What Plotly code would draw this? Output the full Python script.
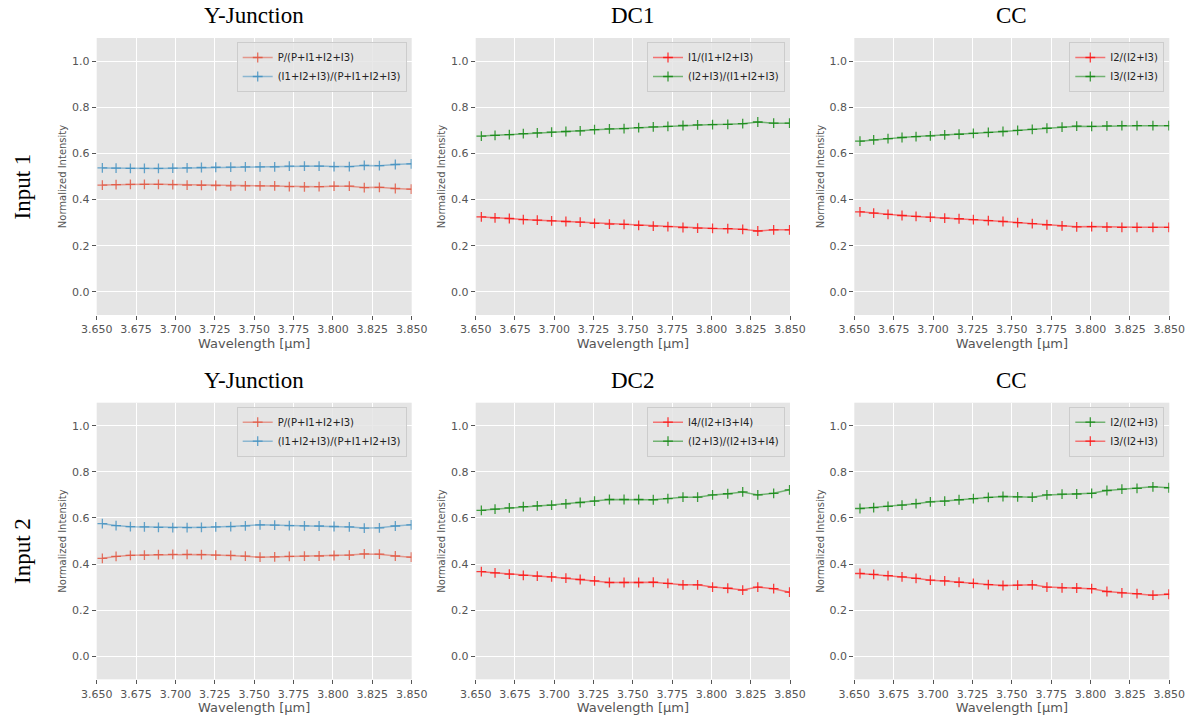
import plotly.graph_objects as go

# ---------------- data ----------------
wavelength = [3.6536, 3.6623, 3.6714, 3.6803, 3.6892, 3.6983, 3.7074, 3.7165,
              3.7256, 3.7351, 3.7444, 3.7537, 3.7630, 3.7723, 3.7819, 3.7912,
              3.8007, 3.8104, 3.8199, 3.8295, 3.8396, 3.8497]

# Input 1, Y-Junction
yj1_p = [0.463, 0.465, 0.466, 0.466, 0.466, 0.465, 0.463, 0.462, 0.461, 0.459, 0.459,
         0.459, 0.459, 0.456, 0.455, 0.456, 0.458, 0.458, 0.452, 0.453, 0.448, 0.445]
yj1_i = [0.537, 0.536, 0.535, 0.535, 0.535, 0.536, 0.537, 0.539, 0.540, 0.541, 0.542,
         0.542, 0.542, 0.545, 0.545, 0.545, 0.543, 0.543, 0.548, 0.547, 0.552, 0.555]
# Input 1, DC1
dc1_i1 = [0.325, 0.321, 0.318, 0.313, 0.311, 0.308, 0.305, 0.302, 0.297, 0.294, 0.293,
          0.288, 0.285, 0.283, 0.279, 0.276, 0.275, 0.274, 0.271, 0.264, 0.269, 0.269]
dc1_i23 = [0.675, 0.678, 0.681, 0.686, 0.689, 0.692, 0.695, 0.698, 0.703, 0.706, 0.707,
           0.712, 0.715, 0.717, 0.721, 0.724, 0.725, 0.726, 0.729, 0.736, 0.731, 0.731]
# Input 1, CC
cc1_i2 = [0.347, 0.341, 0.336, 0.331, 0.327, 0.324, 0.320, 0.317, 0.313, 0.309, 0.305,
          0.300, 0.296, 0.291, 0.286, 0.282, 0.283, 0.281, 0.280, 0.280, 0.280, 0.280]
cc1_i3 = [0.653, 0.659, 0.664, 0.669, 0.673, 0.676, 0.680, 0.683, 0.687, 0.691, 0.695,
          0.700, 0.704, 0.709, 0.714, 0.718, 0.717, 0.719, 0.720, 0.720, 0.720, 0.720]
# Input 2, Y-Junction
yj2_p = [0.425, 0.433, 0.438, 0.439, 0.441, 0.442, 0.442, 0.441, 0.439, 0.438, 0.434,
         0.430, 0.431, 0.433, 0.434, 0.435, 0.437, 0.439, 0.444, 0.443, 0.435, 0.430]
yj2_i = [0.575, 0.567, 0.562, 0.561, 0.559, 0.558, 0.558, 0.559, 0.561, 0.562, 0.566,
         0.570, 0.569, 0.567, 0.566, 0.565, 0.563, 0.561, 0.556, 0.557, 0.565, 0.570]
# Input 2, DC2
dc2_i4 = [0.367, 0.362, 0.356, 0.351, 0.348, 0.344, 0.339, 0.333, 0.327, 0.320, 0.320,
          0.320, 0.321, 0.316, 0.310, 0.310, 0.300, 0.295, 0.287, 0.300, 0.293, 0.278]
dc2_i23 = [0.633, 0.638, 0.644, 0.649, 0.652, 0.656, 0.661, 0.667, 0.673, 0.680, 0.680,
           0.680, 0.679, 0.684, 0.690, 0.690, 0.700, 0.705, 0.713, 0.700, 0.707, 0.722]
# Input 2, CC
cc2_i2 = [0.641, 0.645, 0.650, 0.656, 0.662, 0.670, 0.673, 0.679, 0.684, 0.689, 0.693,
          0.691, 0.690, 0.700, 0.703, 0.704, 0.707, 0.719, 0.725, 0.728, 0.735, 0.731]
cc2_i3 = [0.359, 0.355, 0.350, 0.344, 0.338, 0.330, 0.327, 0.321, 0.316, 0.311, 0.307,
          0.309, 0.310, 0.300, 0.297, 0.296, 0.293, 0.281, 0.275, 0.272, 0.265, 0.269]

panel_titles = ["Y-Junction", "DC1", "CC", "Y-Junction", "DC2", "CC"]
row_labels = ["Input 1", "Input 2"]
x_ticks = [3.650, 3.675, 3.700, 3.725, 3.750, 3.775, 3.800, 3.825, 3.850]
y_ticks = [0.0, 0.2, 0.4, 0.6, 0.8, 1.0]

RED_GG = (226, 74, 51)
BLUE_GG = (52, 138, 189)
RED = (255, 0, 0)
GREEN = (0, 128, 0)

panels = [
    [("P/(P+I1+I2+I3)", yj1_p, RED_GG), ("(I1+I2+I3)/(P+I1+I2+I3)", yj1_i, BLUE_GG)],
    [("I1/(I1+I2+I3)", dc1_i1, RED), ("(I2+I3)/(I1+I2+I3)", dc1_i23, GREEN)],
    [("I2/(I2+I3)", cc1_i2, RED), ("I3/(I2+I3)", cc1_i3, GREEN)],
    [("P/(P+I1+I2+I3)", yj2_p, RED_GG), ("(I1+I2+I3)/(P+I1+I2+I3)", yj2_i, BLUE_GG)],
    [("I4/(I2+I3+I4)", dc2_i4, RED), ("(I2+I3)/(I2+I3+I4)", dc2_i23, GREEN)],
    [("I2/(I2+I3)", cc2_i2, GREEN), ("I3/(I2+I3)", cc2_i3, RED)],
]

# ---------------- layout geometry (window pixels) ----------------
W, H = 1188, 719
x_doms = [(96.7, 411.7), (475.7, 790.0), (854.3, 1169.3)]
y_doms = [(38.0, 315.0), (402.7, 679.3)]

def px_x(v):
    return v / W

def px_y(v):
    return 1 - v / H

def rgba(c, a):
    return f"rgba({c[0]},{c[1]},{c[2]},{a})"

fig = go.Figure()
layout = dict(
    width=W, height=H, margin=dict(l=0, r=0, t=0, b=0, autoexpand=False),
    paper_bgcolor="white", plot_bgcolor="#E5E5E5",
    font=dict(family="DejaVu Sans", color="#555555"),
    showlegend=True,
)
annotations = []

for i, series in enumerate(panels):
    r, c = divmod(i, 3)
    k = i + 1
    xa = "x" if k == 1 else f"x{k}"
    ya = "y" if k == 1 else f"y{k}"
    leg = "legend" if k == 1 else f"legend{k}"
    for name, vals, col in series:
        fig.add_trace(go.Scatter(
            x=wavelength, y=vals, name=name, mode="lines+markers",
            line=dict(color=rgba(col, 0.5), width=1.5),
            marker=dict(symbol="cross-thin", size=7,
                        line=dict(color=rgba(col, 0.75), width=1.3)),
            xaxis=xa, yaxis=ya, legend=leg,
        ))
    x0, x1 = x_doms[c]
    y0, y1 = y_doms[r]
    xd = [px_x(x0), px_x(x1)]
    yd = [px_y(y1), px_y(y0)]
    layout["xaxis" if k == 1 else f"xaxis{k}"] = dict(
        domain=xd, anchor=ya, range=[3.65, 3.85], automargin=False,
        tickvals=x_ticks, tickformat=".3f",
        showgrid=True, gridcolor="white", gridwidth=1, zeroline=False,
        ticks="outside", ticklen=4, tickcolor="#555555",
        tickfont=dict(size=11, color="#555555"),
        title=dict(text="Wavelength [µm]", font=dict(size=13, color="#555555"), standoff=2),
        showline=False,
    )
    layout["yaxis" if k == 1 else f"yaxis{k}"] = dict(
        domain=yd, anchor=xa, range=[-0.1, 1.1], automargin=False,
        tickvals=y_ticks, tickformat=".1f",
        showgrid=True, gridcolor="white", gridwidth=1, zeroline=False,
        ticks="outside", ticklen=4, tickcolor="#555555",
        tickfont=dict(size=11, color="#555555"),
        title=dict(text="Normalized Intensity", font=dict(size=10, color="#555555"), standoff=3),
        showline=False,
    )
    layout[leg] = dict(
        x=px_x(x1 - 5), y=px_y(y0 + 4), xanchor="right", yanchor="top",
        xref="paper", yref="paper",
        bgcolor="rgba(229,229,229,0.85)", bordercolor="#CCCCCC", borderwidth=1,
        font=dict(size=10, color="#222222"), tracegroupgap=0,
        itemwidth=30,
    )
    annotations.append(dict(
        text=panel_titles[i], x=px_x((x0 + x1) / 2), y=px_y(y0 - 22),
        xref="paper", yref="paper", xanchor="center", yanchor="middle",
        showarrow=False, font=dict(family="Liberation Serif", size=23, color="black"),
    ))

for r, lab in enumerate(row_labels):
    y0, y1 = y_doms[r]
    annotations.append(dict(
        text=lab, x=px_x(22), y=px_y((y0 + y1) / 2 + 10),
        xref="paper", yref="paper", xanchor="center", yanchor="middle",
        showarrow=False, textangle=-90,
        font=dict(family="Liberation Serif", size=23, color="black"),
    ))

layout["annotations"] = annotations
fig.update_layout(**layout)
fig.write_html("out.html", config={"displayModeBar": False},
               post_script="document.body.style.margin='0';")
